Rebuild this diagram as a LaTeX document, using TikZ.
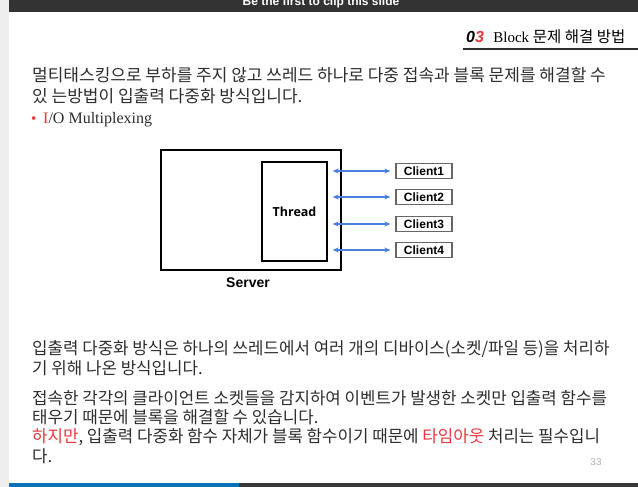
\documentclass[tikz,border=0pt]{standalone}
\usepackage{fontspec}
\setmainfont{Liberation Serif}
\newfontfamily\krfont{Noto Sans CJK KR}
\newfontfamily\arialfont{Liberation Sans}
\newfontfamily\threadfont{Open Sans}
\usetikzlibrary{positioning,calc,arrows.meta}
\definecolor{slidebar}{HTML}{333333}
\definecolor{footgray}{HTML}{3A3A3A}
\definecolor{sidegray}{HTML}{EEEEEE}
\definecolor{footblue}{HTML}{0A72B8}
\definecolor{textgray}{HTML}{2E2E2E}
\definecolor{alertred}{HTML}{E8383D}
\definecolor{arrowblue}{HTML}{4A7FE0}

\begin{document}
\begin{tikzpicture}[
  x=1pt, y=-1pt,
  bodytext/.style={anchor=west, inner sep=0pt, text=textgray, font=\fontsize{16.8}{18}\krfont},
  introtext/.style={bodytext, font=\fontsize{17}{18}\krfont},
  box/.style={draw, line width=1.6pt, inner sep=0pt},
  clientbox/.style={draw=gray!80!black, line width=1.2pt, minimum width=56pt, minimum height=15pt, inner sep=0pt, font=\fontsize{12}{12}\arialfont\bfseries},
  arrow/.style={{Stealth[length=6pt,width=5pt]}-{Stealth[length=6pt,width=5pt]}, draw=arrowblue, line width=1.4pt, shorten <=5pt, shorten >=5pt}
]
  \useasboundingbox (0,0) rectangle (638,487);
  % Page frame
  \fill[white] (0,0) rectangle (638,487);
  \fill[sidegray] (0,0) rectangle (9,487);
  \fill[slidebar] (9,0) rectangle (638,12);
  \begin{scope}
    \clip (9,0) rectangle (638,12);
    \node[text=white, font=\fontsize{12}{12}\arialfont\bfseries] (cliptext) at (321,2) {Be the first to clip this slide};
  \end{scope}
  \fill[footblue] (9,483) rectangle (239,487);
  \fill[footgray] (239,483) rectangle (638,487);

  % Title
  \node[anchor=west, inner sep=0pt, font=\fontsize{16}{16}\arialfont\bfseries\itshape] (num) at (466,37) {0\textcolor{alertred}{3}};
  \node[anchor=west, inner sep=0pt, font=\fontsize{15}{15}\selectfont, right=9pt of num] (title) {Block {\krfont\fontsize{15.5}{15.5}\selectfont 문제 해결 방법}};
  \coordinate (ruleL) at (463,49);
  \coordinate (ruleR) at (638,49);
  \draw[line width=1.5pt, textgray] (ruleL) -- (ruleR);

  % Intro
  \node[introtext] (intro1) at (32,75) {멀티태스킹으로 부하를 주지 않고 쓰레드 하나로 다중 접속과 블록 문제를 해결할 수};
  \node[introtext] (intro2) at (32,96) {있 는방법이 입출력 다중화 방식입니다.};
  \node[anchor=west, inner sep=0pt, text=alertred, font=\fontsize{15}{15}\selectfont] (bullet) at (31,120) {•};
  \node[anchor=west, inner sep=0pt, text=textgray, font=\fontsize{16}{16}\selectfont] (topic) at (43,120) {\textcolor{alertred}{I}/O Multiplexing};

  % Server / Thread / Clients
  \node[box, minimum width=180pt, minimum height=120pt] (server) at (251,210) {};
  \node[font=\fontsize{14}{14}\arialfont\bfseries] (serverlabel) at (248,283) {Server};
  \node[box, line width=1.4pt, minimum width=65pt, minimum height=99pt, font=\fontsize{12.5}{12.5}\threadfont\bfseries] (thread) at (294.5,211.5) {Thread};
  \node[clientbox] (client1) at (424,171) {Client1};
  \node[clientbox] (client2) at (424,197) {Client2};
  \node[clientbox] (client3) at (424,224) {Client3};
  \node[clientbox] (client4) at (424,250) {Client4};
  \draw[arrow] (thread.east |- client1) -- (client1);
  \draw[arrow] (thread.east |- client2) -- (client2);
  \draw[arrow] (thread.east |- client3) -- (client3);
  \draw[arrow] (thread.east |- client4) -- (client4);

  % Explanation
  \node[bodytext] (expl1) at (32,349) {입출력 다중화 방식은 하나의 쓰레드에서 여러 개의 디바이스(소켓/파일 등)을 처리하};
  \node[bodytext] (expl2) at (32,368) {기 위해 나온 방식입니다.};
  \node[bodytext] (expl3) at (32,398) {접속한 각각의 클라이언트 소켓들을 감지하여 이벤트가 발생한 소켓만 입출력 함수를};
  \node[bodytext] (expl4) at (32,417) {태우기 때문에 블록을 해결할 수 있습니다.};
  \node[bodytext] (expl5) at (32,437) {\textcolor{alertred}{하지만}, 입출력 다중화 함수 자체가 블록 함수이기 때문에 \textcolor{alertred}{타임아웃} 처리는 필수입니};
  \node[bodytext] (expl6) at (32,456) {다.};
  \node[text=gray!60, font=\fontsize{10}{10}\arialfont] (pagenum) at (596,462) {33};
\end{tikzpicture}
\end{document}
